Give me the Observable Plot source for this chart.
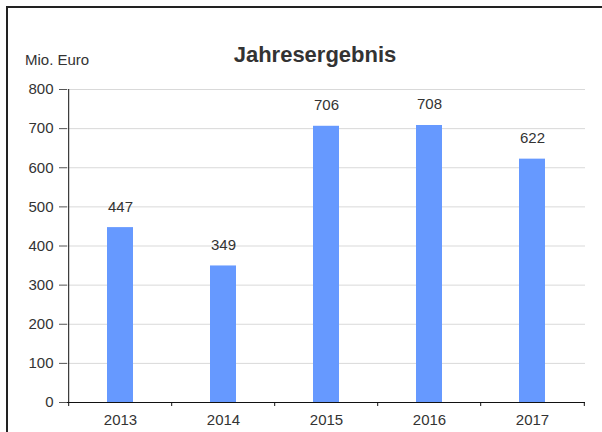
<!DOCTYPE html>
<html><head><meta charset="utf-8">
<script src="https://cdn.jsdelivr.net/npm/d3@7"></script>
<script src="https://cdn.jsdelivr.net/npm/@observablehq/plot@0.6"></script>
<style>
html,body{margin:0;padding:0;background:#fff;font-family:"Liberation Sans",Arial,sans-serif;overflow:hidden;}
#wrap{position:relative;width:602px;height:432px;overflow:hidden;}
#bl{position:absolute;left:6px;top:6px;width:2px;height:426px;background:#222;}
#bt{position:absolute;left:6px;top:6px;width:596px;height:2px;background:#222;}
#title{position:absolute;left:0;width:630px;top:42px;text-align:center;font-weight:bold;font-size:22px;color:#333;white-space:nowrap;}
#unit{position:absolute;left:25px;top:51px;font-size:15px;color:#333;}
#chart{position:absolute;left:0;top:0;}
</style></head>
<body>
<div id="wrap">
<div id="bl"></div><div id="bt"></div>
<div id="chart"></div>
<div id="title">Jahresergebnis</div>
<div id="unit">Mio. Euro</div>
</div>
<script>
const years = ["2013","2014","2015","2016","2017"];
const values = [447, 349, 706, 708, 622];
const yTicks = [0,100,200,300,400,500,600,700,800];

const data = years.map((y,i)=>({year:y, value:values[i]}));
const W = 602, H = 432, mL = 67, mR = 17, mT = 89, mB = 30;
const step = (W - mL - mR) / years.length;

const chart = Plot.plot({
  width: W, height: H,
  marginLeft: mL, marginRight: mR, marginTop: mT, marginBottom: mB,
  style: {fontFamily: '"Liberation Sans", Arial, sans-serif', fontSize: "15px", color: "#333", background: "transparent"},
  x: {domain: years, paddingInner: 0.75, paddingOuter: 0.375, label: null},
  y: {domain: [0, 800], label: null},
  marks: [
    Plot.gridY(yTicks, {stroke: "#d9d9d9", strokeOpacity: 1, strokeWidth: 1}),
    Plot.barY(data, {x: "year", y: "value", fill: "#6699ff"}),
    Plot.text(data, {x: "year", y: "value", text: d => String(d.value), lineAnchor: "bottom", dy: -16, fontSize: 15, fill: "#333"}),
    Plot.ruleY([0], {stroke: "#111"}),
    Plot.ruleX(years.slice(0,1), {x: d => d, dx: -step/2, stroke: "#111"}),
    Plot.axisY(yTicks, {tickSize: 8, tickPadding: 6, fontSize: 15, stroke: "#555", fill: "#333", tickFormat: d => String(d)}),
    Plot.axisX({tickSize: 0, tickPadding: 12, fontSize: 15, fill: "#333"}),
    Plot.ruleX(years, {x: d => d, y1: 0, y2: 0, dx: -step/2, insetBottom: -4, stroke: "#111"}),
    Plot.ruleX([years[years.length-1]], {x: d => d, y1: 0, y2: 0, dx: step/2, insetBottom: -4, stroke: "#111"})
  ]
});
document.getElementById("chart").appendChild(chart);
</script>
</body></html>
